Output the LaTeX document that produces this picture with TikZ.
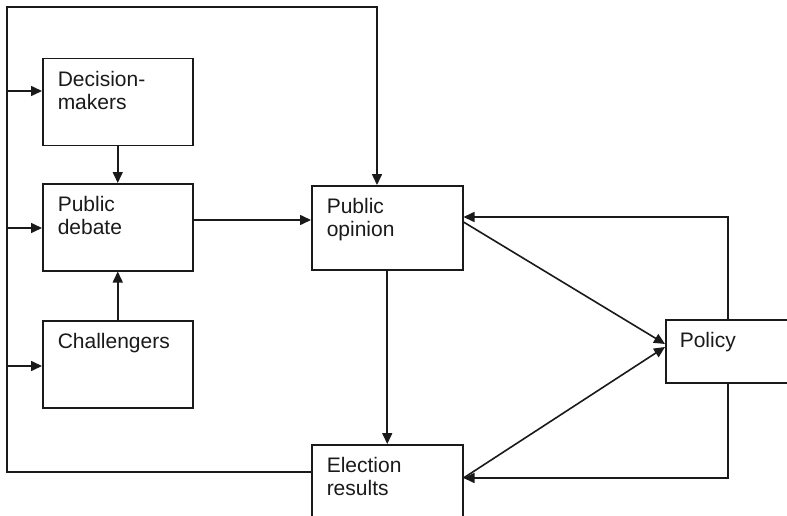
\documentclass[tikz,border=0pt]{standalone}
\usepackage{fontspec}
\setmainfont{Liberation Sans}
\usetikzlibrary{arrows.meta,calc}
\definecolor{ink}{HTML}{1A1A1A}
\newcommand{\boxtext}[3]{\parbox[c][#1][t]{#2}{\rule{0pt}{28pt}#3}}
\begin{document}
\begin{tikzpicture}[x=1pt,y=-1pt,
  box/.style={draw=ink,line width=1.5pt,anchor=north west,inner xsep=15pt,inner ysep=0pt,
    font=\fontsize{21}{23}\selectfont,text=ink},
  arr/.style={draw=ink,line width=1.6pt,-{Triangle[length=11pt,width=10pt]}},
  ln/.style={draw=ink,line width=1.6pt}]
\clip (0,0) rectangle (787,516);
\fill[white] (0,0) rectangle (787,516);
% boxes
\node[box] (dm) at (42,58)  {\boxtext{87pt}{120pt}{Decision-\\makers}};
\node[box] (pd) at (42,183) {\boxtext{87pt}{120pt}{Public\\debate}};
\node[box] (ch) at (42,320) {\boxtext{87pt}{120pt}{Challengers}};
\node[box] (po) at (311,185) {\boxtext{84pt}{121pt}{Public\\opinion}};
\node[box] (er) at (311,444) {\boxtext{87pt}{121pt}{Election\\results}};
\node[box,inner xsep=14pt] (pol) at (665,319) {\boxtext{63pt}{96pt}{Policy}};
% outer loop
\coordinate (lt) at (7,7);
\coordinate (lb) at (7,472);
\coordinate (tr) at (377,7);
\draw[arr] (er.west |- lb) -- (lb) -- (lt) -- (tr) -- (tr |- po.north);
\coordinate (a1) at (7,91);
\coordinate (a2) at (7,228);
\coordinate (a3) at (7,366);
\draw[arr] (a1) -- (a1 -| dm.west);
\draw[arr] (a2) -- (a2 -| pd.west);
\draw[arr] (a3) -- (a3 -| ch.west);
% inner connectors
\draw[arr] (dm.south) -- (pd.north);
\draw[arr] (ch.north) -- (pd.south);
\draw[arr] (pd.east |- 0,220) -- (po.west |- 0,220);
\draw[arr] (po.south) -- (er.north);
\draw[arr] (pol.north) -- (pol.north |- 0,217) -- (po.east |- 0,217);
\draw[arr] (pol.south) -- (pol.south |- 0,478) -- (er.east |- 0,478);
\draw[arr] (po.east |- 0,222) -- (pol.west |- 0,344);
\draw[arr] (er.east |- 0,478) -- (pol.west |- 0,347);
\end{tikzpicture}
\end{document}
